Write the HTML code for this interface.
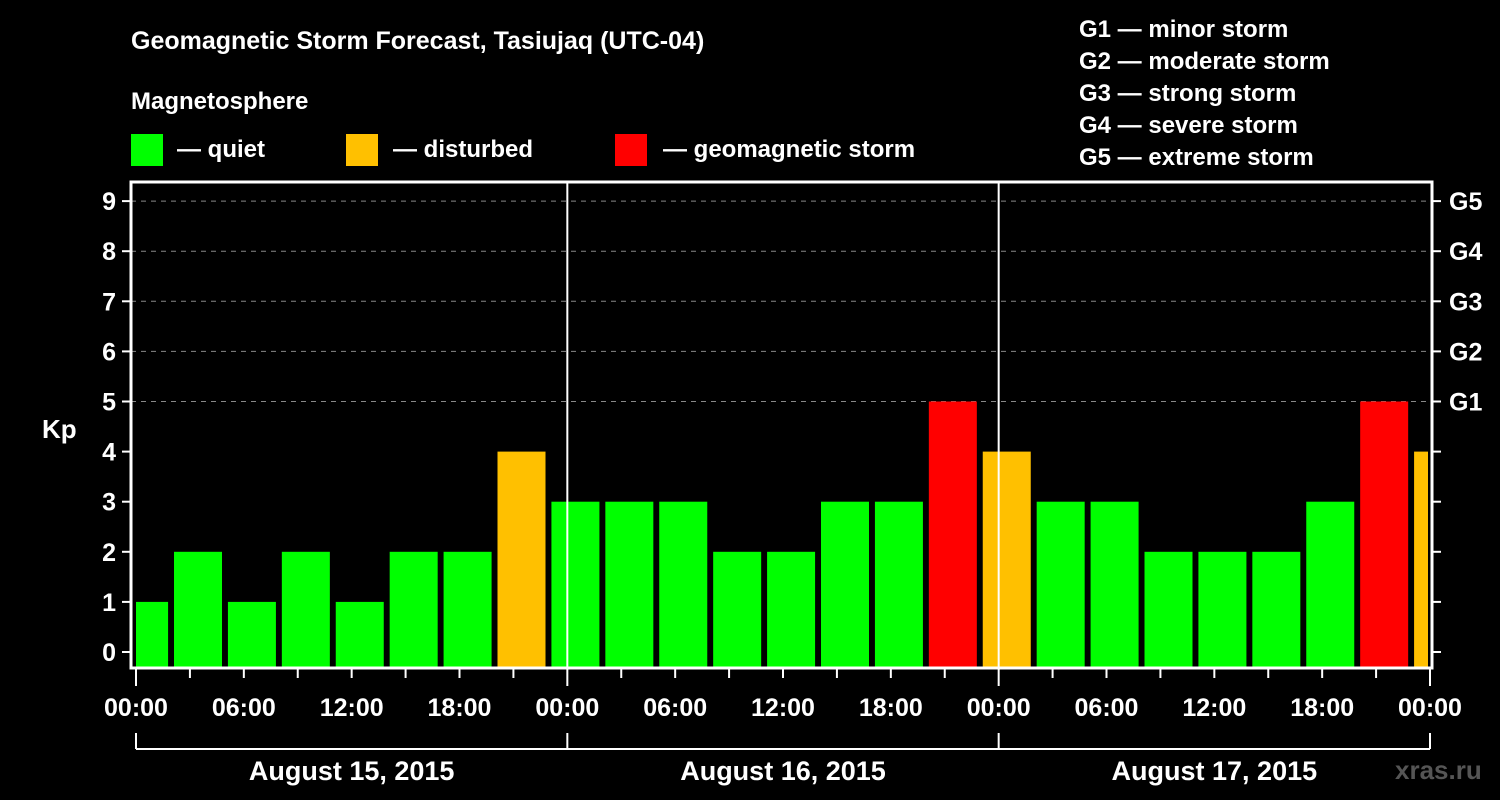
<!DOCTYPE html>
<html><head><meta charset="utf-8"><style>
body{margin:0;background:#000;}
svg{display:block;font-family:"Liberation Sans",sans-serif;font-weight:bold;}
</style></head><body>
<svg id="c" width="1500" height="800">
<rect width="1500" height="800" fill="#000"/>
<text x="131" y="49" fill="#fff" font-size="25">Geomagnetic Storm Forecast, Tasiujaq (UTC-04)</text>
<text x="131" y="109" fill="#fff" font-size="24">Magnetosphere</text>
<g><rect x="131" y="134" width="32" height="32" fill="#00ff00"/><text x="177" y="157" fill="#fff" font-size="24">— quiet</text></g>
<g><rect x="346" y="134" width="32" height="32" fill="#ffc000"/><text x="393" y="157" fill="#fff" font-size="24">— disturbed</text></g>
<g><rect x="615" y="134" width="32" height="32" fill="#ff0000"/><text x="663" y="157" fill="#fff" font-size="24">— geomagnetic storm</text></g>
<g fill="#fff" font-size="24">
<text x="1079" y="37">G1 — minor storm</text><text x="1079" y="69">G2 — moderate storm</text><text x="1079" y="101">G3 — strong storm</text><text x="1079" y="133">G4 — severe storm</text><text x="1079" y="165">G5 — extreme storm</text>
</g>
<text x="42" y="438" fill="#fff" font-size="26">Kp</text>
<text x="1395" y="779" fill="#555" font-size="26">xras.ru</text>
<g id="plot"></g>
</svg>
<script>
const values=[1,2,1,2,1,2,2,4,3,3,3,2,2,3,3,5,4,3,3,2,2,2,3,5,4];
const yTicks=[0,1,2,3,4,5,6,7,8,9];
const gLabels=["G1","G2","G3","G4","G5"];
const xLabels=["00:00","06:00","12:00","18:00","00:00","06:00","12:00","18:00","00:00","06:00","12:00","18:00","00:00"];
const days=["August 15, 2015","August 16, 2015","August 17, 2015"];
const NS="http://www.w3.org/2000/svg";
const P=document.getElementById('plot');
const L=131,R=1432,T=182,B=668,X0=136,X1=1430;
const y=v=>652-v*50.1;
const x=h=>X0+h*(X1-X0)/72;
function mk(t,a,p){const e=document.createElementNS(NS,t);for(const k in a)e.setAttribute(k,a[k]);(p||P).appendChild(e);return e;}
// grid
for(let v=5;v<=9;v++){const e=mk('line',{x1:L,x2:R,y1:y(v),y2:y(v),stroke:'#888','stroke-dasharray':'5,5'});

}
// bars
const clip=mk('clipPath',{id:'cp'});mk('rect',{x:X0,y:T,width:1428-X0,height:B-T},clip);
values.forEach((v,i)=>{const c=x(3*i+0.45);const col=v>=5?'#ff0000':v>=4?'#ffc000':'#00ff00';
const r=mk('rect',{x:c-24,y:y(v),width:48,height:B-y(v),fill:col,'clip-path':'url(#cp)'});

});
// day separators
[1,2].forEach(d=>{const e=mk('line',{x1:x(24*d),x2:x(24*d),y1:T,y2:B,stroke:'#fff','stroke-width':2});

});
// frame
const f=mk('rect',{x:L,y:T,width:R-L,height:B-T,fill:'none',stroke:'#fff','stroke-width':3});


// y ticks
yTicks.forEach(v=>{mk('line',{x1:122,x2:L,y1:y(v),y2:y(v),stroke:'#fff','stroke-width':2});
mk('line',{x1:R,x2:1441,y1:y(v),y2:y(v),stroke:'#fff','stroke-width':2});
const t=mk('text',{x:116,y:y(v)+9,fill:'#fff','font-size':25,'text-anchor':'end'});t.textContent=v;

});
gLabels.forEach((g,i)=>{const t=mk('text',{x:1449,y:y(5+i)+9,fill:'#fff','font-size':25});t.textContent=g;

});
// x ticks
for(let h=0;h<=72;h+=3){const big=h%24===0;mk('line',{x1:x(h),x2:x(h),y1:B,y2:big?686:678,stroke:'#fff','stroke-width':2});}
xLabels.forEach((s,i)=>{const t=mk('text',{x:x(6*i),y:716,fill:'#fff','font-size':25,'text-anchor':'middle'});t.textContent=s;

});
// day bracket
mk('line',{x1:x(0),x2:x(72),y1:749,y2:749,stroke:'#fff','stroke-width':2});
for(let d=0;d<=3;d++)mk('line',{x1:x(24*d),x2:x(24*d),y1:733,y2:749,stroke:'#fff','stroke-width':2});
days.forEach((s,i)=>{const t=mk('text',{x:x(24*i+12),y:780,fill:'#fff','font-size':27,'text-anchor':'middle'});t.textContent=s;

});
</script>
</body></html>
